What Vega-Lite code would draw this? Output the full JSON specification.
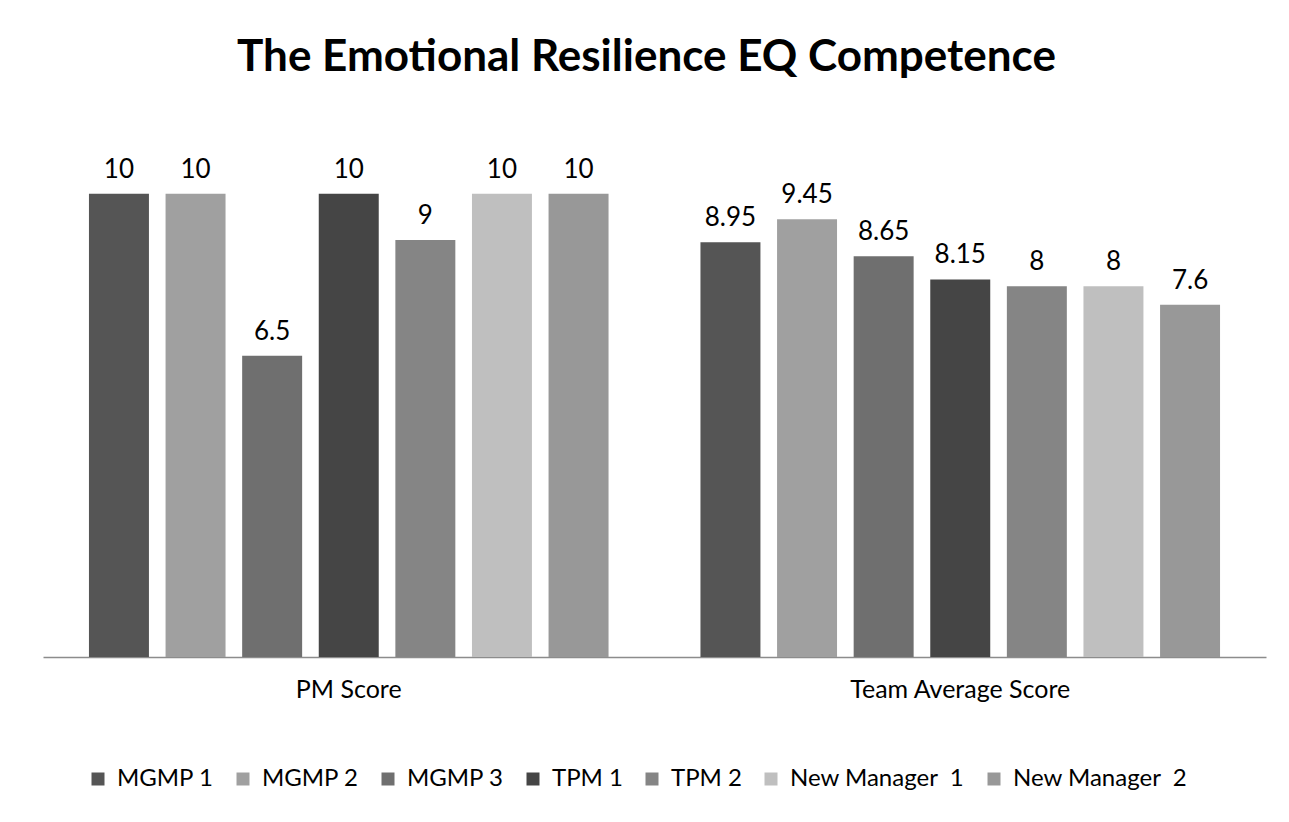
{
  "$schema": "https://vega.github.io/schema/vega-lite/v6.json",
  "width": 1223,
  "height": 556,
  "autosize": "none",
  "padding": {"left": 43, "top": 101, "right": 23, "bottom": 165},
  "background": "white",
  "title": {"text": "The Emotional Resilience EQ Competence", "font": "Lato", "fontSize": 44, "fontWeight": "bold", "color": "black", "anchor": "middle", "offset": 21, "dx": -8},
  "data": {"values": [
    {"group": "PM Score", "series": "MGMP 1", "value": 10},
    {"group": "PM Score", "series": "MGMP 2", "value": 10},
    {"group": "PM Score", "series": "MGMP 3", "value": 6.5},
    {"group": "PM Score", "series": "TPM 1", "value": 10},
    {"group": "PM Score", "series": "TPM 2", "value": 9},
    {"group": "PM Score", "series": "New Manager \u00a01", "value": 10},
    {"group": "PM Score", "series": "New Manager \u00a02", "value": 10},
    {"group": "Team Average Score", "series": "MGMP 1", "value": 8.95},
    {"group": "Team Average Score", "series": "MGMP 2", "value": 9.45},
    {"group": "Team Average Score", "series": "MGMP 3", "value": 8.65},
    {"group": "Team Average Score", "series": "TPM 1", "value": 8.15},
    {"group": "Team Average Score", "series": "TPM 2", "value": 8},
    {"group": "Team Average Score", "series": "New Manager \u00a01", "value": 8},
    {"group": "Team Average Score", "series": "New Manager \u00a02", "value": 7.6}
  ]},
  "encoding": {
    "x": {"field": "group", "type": "nominal", "sort": null, "scale": {"paddingInner": 0, "paddingOuter": 0},
      "axis": {"title": null, "labelAngle": 0, "labelLimit": 0, "labelFont": "Lato", "labelFontSize": 25, "labelColor": "black", "labelPadding": 20, "ticks": false, "domainColor": "#8c8c8c", "domainWidth": 1.5}},
    "xOffset": {"field": "series", "type": "nominal", "sort": null, "scale": {"paddingInner": 0.217, "paddingOuter": 0.6}},
    "y": {"field": "value", "type": "quantitative", "scale": {"domain": [0, 12]}, "axis": null}
  },
  "layer": [
    {"mark": {"type": "bar"},
     "encoding": {"color": {"field": "series", "type": "nominal", "sort": null,
       "scale": {"domain": ["MGMP 1", "MGMP 2", "MGMP 3", "TPM 1", "TPM 2", "New Manager \u00a01", "New Manager \u00a02"],
                 "range": ["#555555", "#a0a0a0", "#6f6f6f", "#454545", "#858585", "#bfbfbf", "#989898"]},
       "legend": {"title": null, "orient": "none", "direction": "horizontal", "legendX": 43, "legendY": 666, "labelLimit": 0, "symbolType": "square", "symbolSize": 169, "symbolStrokeWidth": 0, "labelFont": "Lato", "labelFontSize": 24, "labelColor": "black", "columnPadding": 17, "labelOffset": 7}}}},
    {"mark": {"type": "text", "baseline": "alphabetic", "dy": -16, "font": "Lato", "fontSize": 26, "color": "black"},
     "encoding": {"text": {"field": "value", "type": "quantitative"}}}
  ],
  "config": {"view": {"stroke": null}}
}
